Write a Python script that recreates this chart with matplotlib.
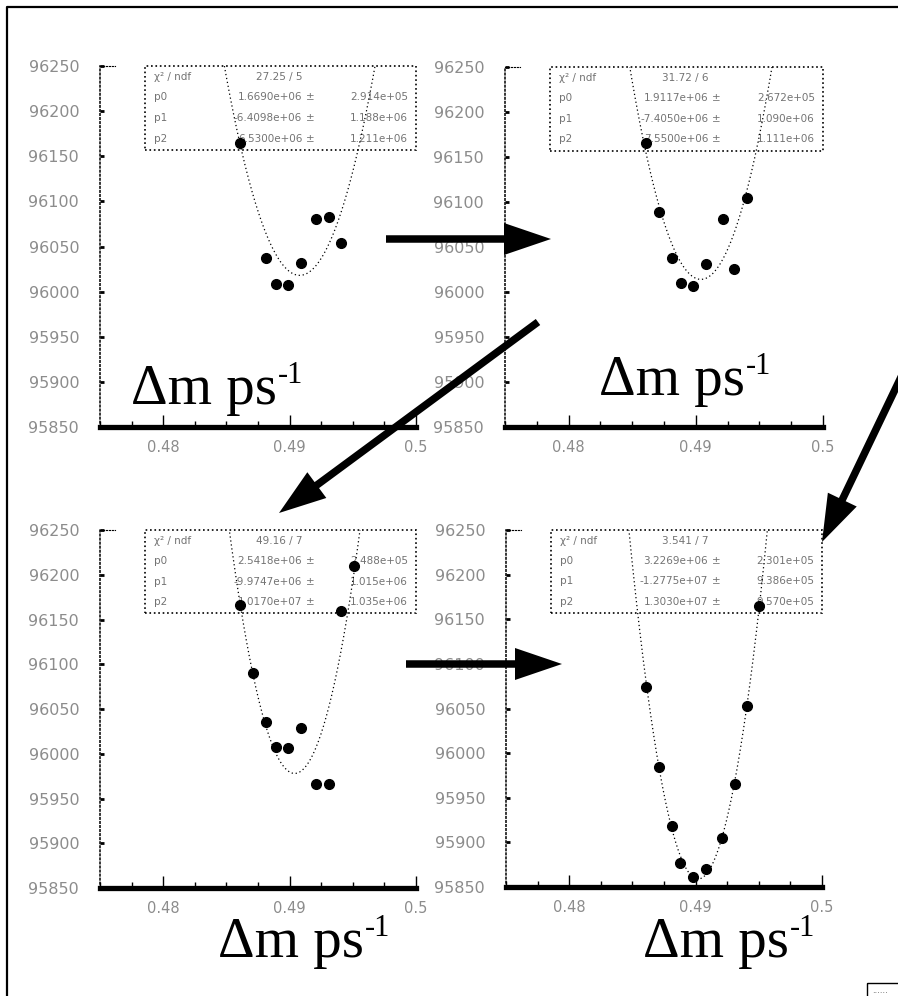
import numpy as np
import matplotlib.pyplot as plt
from matplotlib.patches import Rectangle, FancyArrow

# scan points (delta m in ps^-1, likelihood value)
dm_tl = [0.4861, 0.4881, 0.4889, 0.4899, 0.4909, 0.4921, 0.4931, 0.4941]
nll_tl = [96165, 96037, 96009, 96007, 96032, 96080, 96083, 96054]

dm_tr = [0.4861, 0.4871, 0.4881, 0.4888, 0.4898, 0.4908, 0.4921, 0.4930, 0.4940]
nll_tr = [96166, 96089, 96038, 96010, 96007, 96031, 96081, 96026, 96104]

dm_bl = [0.4861, 0.4871, 0.4881, 0.4889, 0.4899, 0.4909, 0.4921, 0.4931, 0.4941, 0.4951]
nll_bl = [96166, 96090, 96036, 96008, 96006, 96029, 95966, 95966, 96159, 96210]

dm_br = [0.4861, 0.4871, 0.4881, 0.4888, 0.4898, 0.4908, 0.4921, 0.4931, 0.4941, 0.4950]
nll_br = [96074, 95984, 95918, 95877, 95861, 95870, 95905, 95965, 96053, 96165]

# parabola fits: centre, minimum, curvature (tl, tr, bl, br)
fit_centre = [0.4908, 0.4904, 0.4904, 0.4902]
fit_min = [96018, 96014, 95978, 95859]
fit_curv = [6.53e6, 7.55e6, 1.017e7, 1.303e7]

chi2_text = ["27.25 / 5", "31.72 / 6", "49.16 / 7", "3.541 / 7"]
p0_err = ["2.914e+05", "2.672e+05", "2.488e+05", "2.301e+05"]
p1_err = ["1.188e+06", "1.090e+06", "1.015e+06", "9.386e+05"]
p2_err = ["1.211e+06", "1.111e+06", "1.035e+06", "9.570e+05"]

yticks = [95850, 95900, 95950, 96000, 96050, 96100, 96150, 96200, 96250]
xticks = [0.48, 0.49, 0.50]
xtick_labels = ["0.48", "0.49", "0.5"]

W, H = 898, 996
fig = plt.figure(figsize=(W / 100, H / 100), dpi=100)


def px_axes(l, t, r, b):
    return fig.add_axes([l / W, 1 - b / H, (r - l) / W, (b - t) / H])


def draw_panel(ax, dm, nll, i):
    xs = np.linspace(0.475, 0.5, 500)
    ax.plot(xs, fit_min[i] + fit_curv[i] * (xs - fit_centre[i]) ** 2,
            color='black', lw=0.9, ls=(0, (1, 2.2)), zorder=3)
    ax.plot(dm, nll, 'o', color='black', ms=7, zorder=4)
    ax.set_xlim(0.475, 0.5)
    ax.set_ylim(95850, 96250)

    ax.spines['right'].set_visible(False)
    ax.spines['top'].set_bounds(0.475, 0.4762)
    ax.spines['top'].set_linestyle(':')
    ax.spines['left'].set_linestyle(':')
    ax.spines['left'].set_linewidth(1.1)
    ax.spines['bottom'].set_linewidth(3.8)

    ax.set_xticks(xticks)
    ax.set_xticklabels(xtick_labels)
    ax.set_xticks(np.arange(0.475, 0.5001, 0.0025), minor=True)
    ax.set_yticks(yticks)
    ax.set_yticklabels([str(v) for v in yticks])
    ax.tick_params(axis='x', which='major', direction='in', length=9, width=1,
                   pad=9, labelsize=10.5, labelcolor='0.55')
    ax.tick_params(axis='x', which='minor', direction='in', length=4, width=1)
    ax.tick_params(axis='y', direction='in', length=3, width=2, pad=15,
                   labelsize=11.5, labelcolor='0.55')

    # fit statistics box
    ax.add_patch(Rectangle((0.142, 0.767), 0.858, 0.233, transform=ax.transAxes,
                           fill=False, ls=':', lw=1.2, ec='black', zorder=2, clip_on=False))
    c = fit_curv[i]
    x0 = fit_centre[i]
    p0 = c * x0 ** 2 + fit_min[i]
    p1 = -2 * c * x0
    p2 = c
    rows = [("\u03c7\u00b2 / ndf", chi2_text[i], ""),
            ("p0", f"{p0:.4e}", p0_err[i]),
            ("p1", f"{p1:.4e}", p1_err[i]),
            ("p2", f"{p2:.4e}", p2_err[i])]
    for k, (name, val, err) in enumerate(rows):
        y = 0.970 - k * 0.057
        kw = dict(transform=ax.transAxes, fontsize=7.5, color='0.45', va='center', zorder=2)
        ax.text(0.17, y, name, ha='left', **kw)
        ax.text(0.64, y, val, ha='right', **kw)
        if err:
            ax.text(0.665, y, "\u00b1", ha='center', **kw)
            ax.text(0.975, y, err, ha='right', **kw)


panels = [((100, 66, 416, 427), dm_tl, nll_tl),
          ((505, 67, 823, 427), dm_tr, nll_tr),
          ((100, 530, 416, 888), dm_bl, nll_bl),
          ((506, 530, 822, 887), dm_br, nll_br)]
for i, (box, dm, nll) in enumerate(panels):
    draw_panel(px_axes(*box), dm, nll, i)

# overlay in pixel coordinates for arrows, labels and frame
ov = fig.add_axes([0, 0, 1, 1])
ov.set_xlim(0, W)
ov.set_ylim(H, 0)
ov.axis('off')
ov.set_zorder(10)
ov.patch.set_alpha(0)

ov.plot([7, 7, W + 5], [H + 5, 7, 7], color='black', lw=1.6, clip_on=False)
ov.add_patch(Rectangle((867, 983), 40, 20, fill=False, ec='black', lw=1))
ov.text(872, 990, "......", fontsize=6, color='0.3', va='center')

arrows = [((386, 239), (551, 239)),
          ((538, 322), (279, 513)),
          ((406, 664), (562, 664)),
          ((914, 350), (822, 542))]
for (x1, y1), (x2, y2) in arrows:
    ov.add_patch(FancyArrow(x1, y1, x2 - x1, y2 - y1, width=7.5, head_width=32,
                            head_length=47, length_includes_head=True,
                            color='black', lw=0))

renderer = fig.canvas.get_renderer()
for x, y in [(131, 404), (599, 395), (218, 957), (643, 957)]:
    t = ov.text(x, y, "\u0394m ps", fontfamily='Liberation Serif', fontsize=41,
                ha='left', va='baseline')
    right = t.get_window_extent(renderer).x1
    ov.text(right + 1, y - 21, "-1", fontfamily='Liberation Serif', fontsize=22,
            ha='left', va='baseline')

fig.savefig("out.png", dpi=100)
